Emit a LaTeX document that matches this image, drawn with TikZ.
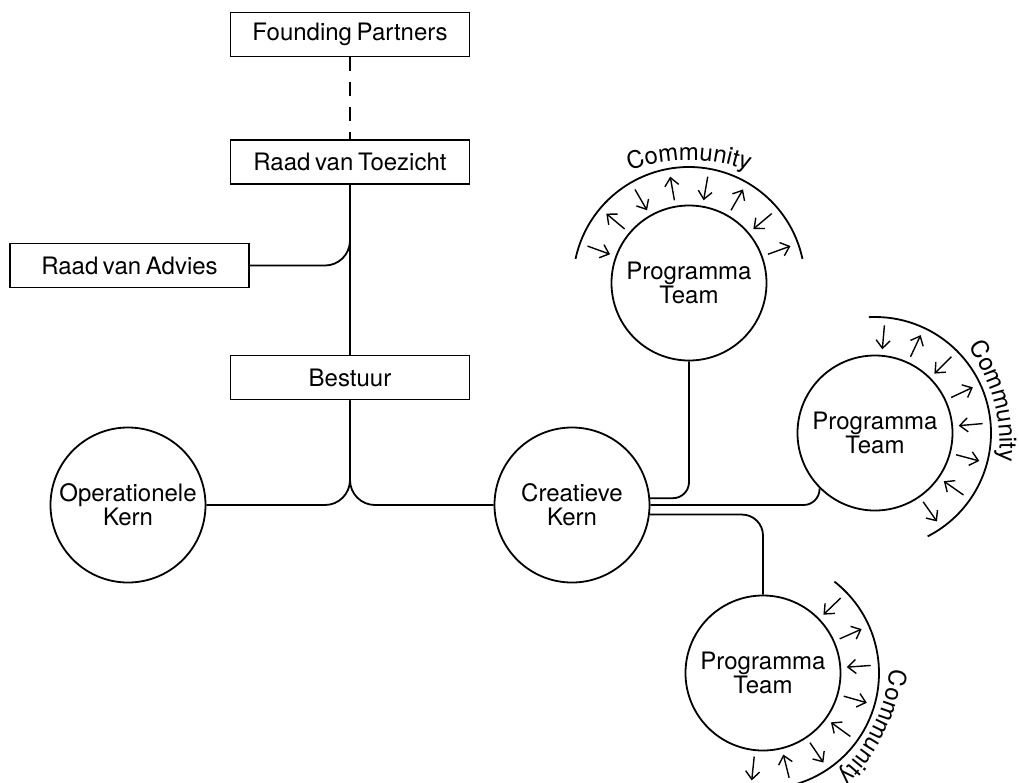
\documentclass[tikz,border=0pt]{standalone}
\usepackage{fontspec}
\setmainfont[WordSpace=0.7]{TeX Gyre Heros}
\usetikzlibrary{arrows.meta,calc,decorations.text}

\begin{document}
\begin{tikzpicture}[x=0.5pt,y=0.5pt,>={Straight Barb[length=4pt,width=7pt]},
        line width=0.9pt,font=\fontsize{12}{12}\selectfont,
        box/.style={draw,minimum width=119.5pt,minimum height=22pt,inner sep=0pt},
        kern/.style={draw,circle,minimum size=77.5pt,inner sep=0pt,align=center},
        flow/.style={->,line width=0.7pt}]
        \useasboundingbox (0,0) rectangle (1019,-783);

        \node[box] (fp) at (350,-34.5) {Founding Partners};
        \node[box] (rvt) at (350,-162) {Raad van Toezicht};
        \node[box] (rva) at (129.5,-265.5) {Raad van Advies};
        \node[box] (bestuur) at (350,-377.5) {Bestuur};

        \node[kern] (ok) at (128,-505) {Operationele\\Kern};
        \node[kern] (ck) at (572,-505) {Creatieve\\Kern};
        \node[kern] (pt1) at (689,-283) {Programma\\Team};
        \node[kern] (pt2) at (875,-433) {Programma\\Team};
        \node[kern] (pt3) at (763,-673) {Programma\\Team};

        \coordinate (adv) at (350,-240);

        \path (fp) edge[dash pattern=on 7pt off 5.5pt] (rvt);
        \path (rvt) edge (bestuur);
        \draw[rounded corners=12.5pt] (rva.east) -| (adv);
        \draw[rounded corners=12.5pt] (bestuur.south) |- (ok.east);
        \draw[rounded corners=12.5pt] (bestuur.south) |- (ck.west);
        \draw[rounded corners=8pt] (ck.5) -| (pt1.south);
        \draw[rounded corners=8pt] (ck.east) -| (pt2.south west);
        \draw[rounded corners=10.5pt] (ck.-7.5) -| (pt3.north);

        \foreach \team/\ang in {pt1/90, pt2/15, pt3/-26} {
          \draw ($(\team)+(\ang+78:116)$) arc[start angle=\ang+78, end angle=\ang-78, radius=116];
          \foreach \k in {0,...,7} {
            \pgfmathsetmacro\dir{\ang+70-20*\k}
            \ifodd\k
              \draw[flow] ($(\team)+(\dir:84)$) -- ($(\team)+(\dir:108)$);
            \else
              \draw[flow] ($(\team)+(\dir:108)$) -- ($(\team)+(\dir:84)$);
            \fi
          }
          \path[decorate,decoration={text along path,text align=center,
              text={|\fontsize{12}{12}\selectfont|Community}}]
            ($(\team)+(\ang:-47)+(\ang+30:170)$) arc[start angle=\ang+30, end angle=\ang-30, radius=170];
        }
      \end{tikzpicture}
\end{document}
